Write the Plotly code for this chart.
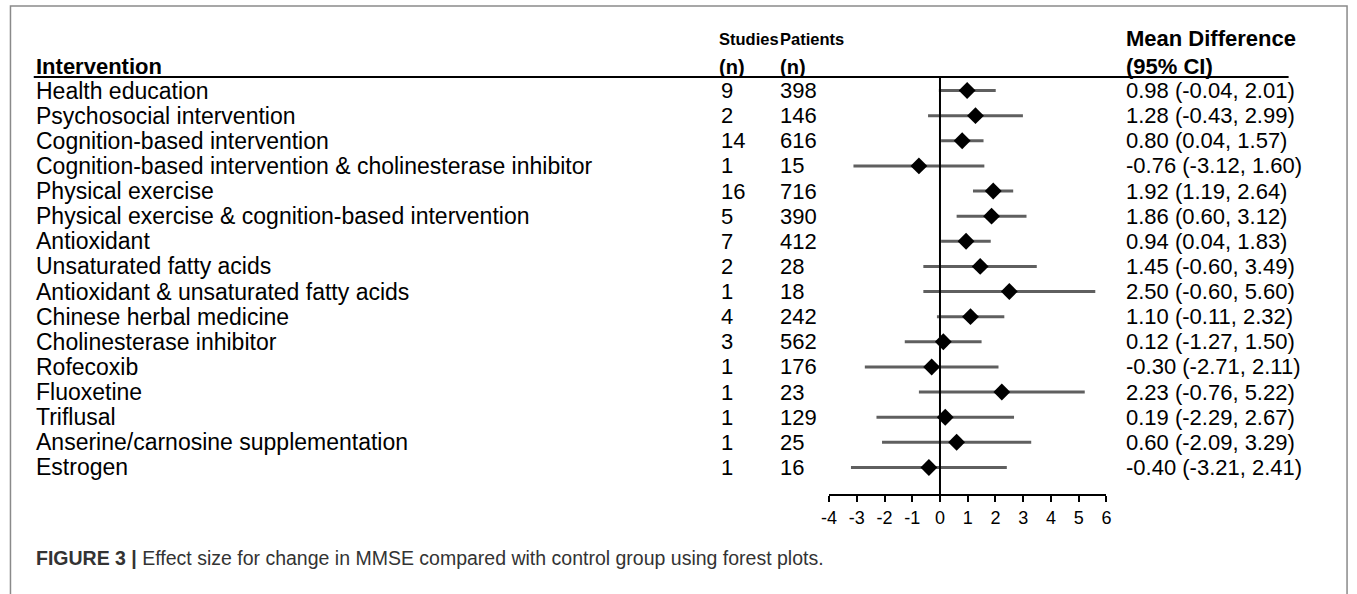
import plotly.graph_objects as go

# ---------------- data ----------------
interventions = [
    "Health education",
    "Psychosocial intervention",
    "Cognition-based intervention",
    "Cognition-based intervention & cholinesterase inhibitor",
    "Physical exercise",
    "Physical exercise & cognition-based intervention",
    "Antioxidant",
    "Unsaturated fatty acids",
    "Antioxidant & unsaturated fatty acids",
    "Chinese herbal medicine",
    "Cholinesterase inhibitor",
    "Rofecoxib",
    "Fluoxetine",
    "Triflusal",
    "Anserine/carnosine supplementation",
    "Estrogen",
]
studies = [9, 2, 14, 1, 16, 5, 7, 2, 1, 4, 3, 1, 1, 1, 1, 1]
patients = [398, 146, 616, 15, 716, 390, 412, 28, 18, 242, 562, 176, 23, 129, 25, 16]
mean_diff = [0.98, 1.28, 0.80, -0.76, 1.92, 1.86, 0.94, 1.45, 2.50, 1.10, 0.12, -0.30, 2.23, 0.19, 0.60, -0.40]
ci_low = [-0.04, -0.43, 0.04, -3.12, 1.19, 0.60, 0.04, -0.60, -0.60, -0.11, -1.27, -2.71, -0.76, -2.29, -2.09, -3.21]
ci_high = [2.01, 2.99, 1.57, 1.60, 2.64, 3.12, 1.83, 3.49, 5.60, 2.32, 1.50, 2.11, 5.22, 2.67, 3.29, 2.41]
x_ticks = [-4, -3, -2, -1, 0, 1, 2, 3, 4, 5, 6]

# ---------------- layout constants ----------------
W, H = 1357, 594
FONT = "Liberation Sans, Arial, sans-serif"
FS = 22
rows = list(range(len(interventions)))
LEFT = 26

def px(x):
    return x / W

def py(y):
    return 1 - y / H

fig = go.Figure()

# CI lines
cx, cy = [], []
for r, lo, hi in zip(rows, ci_low, ci_high):
    cx += [lo, hi, None]
    cy += [r, r, None]
fig.add_trace(go.Scatter(x=cx, y=cy, mode="lines",
                         line=dict(color="#5f5f5f", width=3),
                         hoverinfo="skip", showlegend=False))
# point estimates
fig.add_trace(go.Scatter(x=mean_diff, y=rows, mode="markers",
                         marker=dict(symbol="diamond", size=13, color="black"),
                         showlegend=False))

# y-axis in row units: header line at y=77px, axis line at 494px
row0, rstep = 90.5, 25.13
y_top, y_bot = 77.0, 494.0
fig.update_yaxes(range=[(y_bot - row0) / rstep, (y_top - row0) / rstep],
                 domain=[py(y_bot), py(y_top)], visible=False, fixedrange=True)
fig.update_xaxes(range=[-4, 6], domain=[px(829), px(1109)],
                 tickvals=x_ticks, ticktext=[str(t) for t in x_ticks],
                 showline=True, linecolor="black", linewidth=2,
                 ticks="outside", ticklen=6, tickwidth=2, tickcolor="black",
                 showgrid=False, zeroline=False,
                 tickfont=dict(family=FONT, size=18, color="black"))

shapes = []
# zero line
shapes.append(dict(type="line", xref="x", yref="paper", x0=0, x1=0,
                   y0=py(y_bot), y1=py(y_top), line=dict(color="black", width=2)))
# header rule
shapes.append(dict(type="line", xref="paper", yref="paper", x0=px(LEFT), x1=px(1293),
                   y0=py(y_top), y1=py(y_top), line=dict(color="black", width=2)))
# outer frame
shapes.append(dict(type="rect", xref="paper", yref="paper", x0=px(2.5), x1=px(1352),
                   y0=py(610), y1=py(6), line=dict(color="#8a8a8a", width=1.5)))

ann = []
def txt(x, y, s, yref="y", bold=False, size=FS, color="black"):
    ann.append(dict(x=x, y=y, xref="paper", yref=yref, text=(f"<b>{s}</b>" if bold else s),
                    showarrow=False, xanchor="left", yanchor="middle",
                    font=dict(family=FONT, size=size, color=color)))

# headers
HS = 16.5
txt(px(LEFT), py(67), "Intervention", "paper", True)
txt(px(716), py(39), "Studies", "paper", True, HS)
txt(px(716), py(67), "(n)", "paper", True, 20)
txt(px(777), py(39), "Patients", "paper", True, HS)
txt(px(777), py(67), "(n)", "paper", True, 20)
txt(px(1127), py(39), "Mean Difference", "paper", True)
txt(px(1127), py(67), "(95% CI)", "paper", True)

for r, name, s, p, m, lo, hi in zip(rows, interventions, studies, patients, mean_diff, ci_low, ci_high):
    txt(px(LEFT), r, name, size=23)
    txt(px(718), r, str(s))
    txt(px(777), r, str(p))
    txt(px(1127), r, f"{m:.2f} ({lo:.2f}, {hi:.2f})")

# caption
ann.append(dict(x=px(LEFT), y=py(558), xref="paper", yref="paper", showarrow=False,
                xanchor="left", yanchor="middle",
                text="<b>FIGURE 3 |</b> Effect size for change in MMSE compared with control group using forest plots.",
                font=dict(family=FONT, size=19.5, color="#333333")))

fig.update_layout(width=W, height=H, margin=dict(l=0, r=0, t=0, b=0),
                  paper_bgcolor="white", plot_bgcolor="white",
                  shapes=shapes, annotations=ann, showlegend=False)

fig.write_html(
    "out.html", config={"displayModeBar": False},
    post_script=("document.body.style.margin='0';document.body.style.overflow='hidden';"
                 "var d=document.getElementById('{plot_id}');"
                 "d.style.position='absolute';d.style.left='0px';d.style.top='0px';"))
